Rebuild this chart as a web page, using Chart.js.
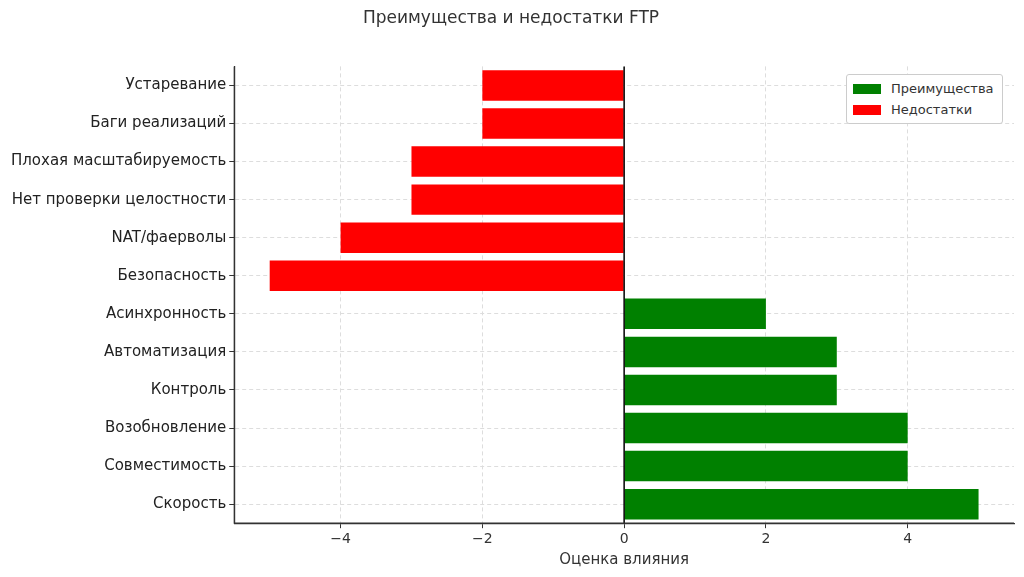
<!DOCTYPE html>
<html>
<head>
<meta charset="utf-8">
<script src="https://cdn.jsdelivr.net/npm/chart.js@4"></script>
<style>
  body { margin: 0; background: #fff; font-family: "DejaVu Sans", sans-serif; }
  #wrap { position: relative; width: 1024px; height: 577px; }
  #legend { position: absolute; left: 846px; top: 74px; border: 1px solid #ccc; border-radius: 3px;
            background: #fff; padding: 3px 8px 3px 6px; font-size: 13px; color: #333; }
  #legend div { display: flex; align-items: center; height: 21px; }
  #legend span.sw { display: inline-block; width: 28px; height: 10px; margin-right: 10px; }
</style>
</head>
<body>
<div id="wrap">
  <canvas id="ftpChart" width="1024" height="577"></canvas>
  <div id="legend">
    <div><span class="sw" style="background:green"></span>Преимущества</div>
    <div><span class="sw" style="background:red"></span>Недостатки</div>
  </div>
</div>
<script>
// top to bottom
const labels = ["Устаревание", "Баги реализаций", "Плохая масштабируемость", "Нет проверки целостности",
  "NAT/фаерволы", "Безопасность", "Асинхронность", "Автоматизация", "Контроль",
  "Возобновление", "Совместимость", "Скорость"];
const advantages = [null, null, null, null, null, null, 2, 3, 3, 4, 4, 5];
const disadvantages = [-2, -2, -3, -3, -4, -5, null, null, null, null, null, null];
const xTicks = [-4, -2, 0, 2, 4];

const zeroLine = {
  id: 'zeroLine',
  afterDatasetsDraw(chart) {
    const { ctx, chartArea, scales } = chart;
    const x = scales.x.getPixelForValue(0);
    ctx.save();
    ctx.strokeStyle = '#000';
    ctx.lineWidth = 1.5;
    ctx.beginPath();
    ctx.moveTo(x, chartArea.top);
    ctx.lineTo(x, chartArea.bottom);
    ctx.stroke();
    // solid axis spines
    ctx.strokeStyle = '#333';
    ctx.lineWidth = 1.2;
    ctx.beginPath();
    ctx.moveTo(chartArea.left, chartArea.top);
    ctx.lineTo(chartArea.left, chartArea.bottom);
    ctx.lineTo(chartArea.right, chartArea.bottom);
    ctx.stroke();
    ctx.restore();
  }
};

new Chart(document.getElementById('ftpChart'), {
  type: 'bar',
  data: {
    labels: labels,
    datasets: [
      { label: 'Преимущества', data: advantages, backgroundColor: 'green', grouped: false, categoryPercentage: 1, barPercentage: 0.8 },
      { label: 'Недостатки', data: disadvantages, backgroundColor: 'red', grouped: false, categoryPercentage: 1, barPercentage: 0.8 }
    ]
  },
  plugins: [zeroLine],
  options: {
    indexAxis: 'y',
    responsive: false,
    animation: false,
    layout: { padding: { left: 8, right: 10, top: 8, bottom: 4 } },
    plugins: {
      legend: { display: false },
      tooltip: { enabled: false },
      title: { display: true, text: 'Преимущества и недостатки FTP', color: '#333',
               font: { family: 'DejaVu Sans', size: 17, weight: 'normal' }, padding: { top: 0, bottom: 38 } }
    },
    scales: {
      x: {
        min: -5.5, max: 5.5,
        afterBuildTicks(axis) { axis.ticks = xTicks.map(v => ({ value: v })); },
        ticks: { color: '#333', font: { family: 'DejaVu Sans', size: 14 },
                 callback: v => String(v).replace('-', '\u2212') },
        grid: { color: '#ddd', tickColor: '#333', tickLength: 5 },
        border: { color: '#333', width: 1.2, dash: [4, 3] },
        title: { display: true, text: 'Оценка влияния', color: '#333', font: { family: 'DejaVu Sans', size: 15 }, padding: { top: 0 } }
      },
      y: {
        ticks: { color: '#222', font: { family: 'DejaVu Sans', size: 15 } },
        grid: { color: '#ddd', tickColor: '#333', tickLength: 5, offset: false },
        border: { color: '#333', width: 1.2, dash: [4, 3] }
      }
    }
  }
});
</script>
</body>
</html>
